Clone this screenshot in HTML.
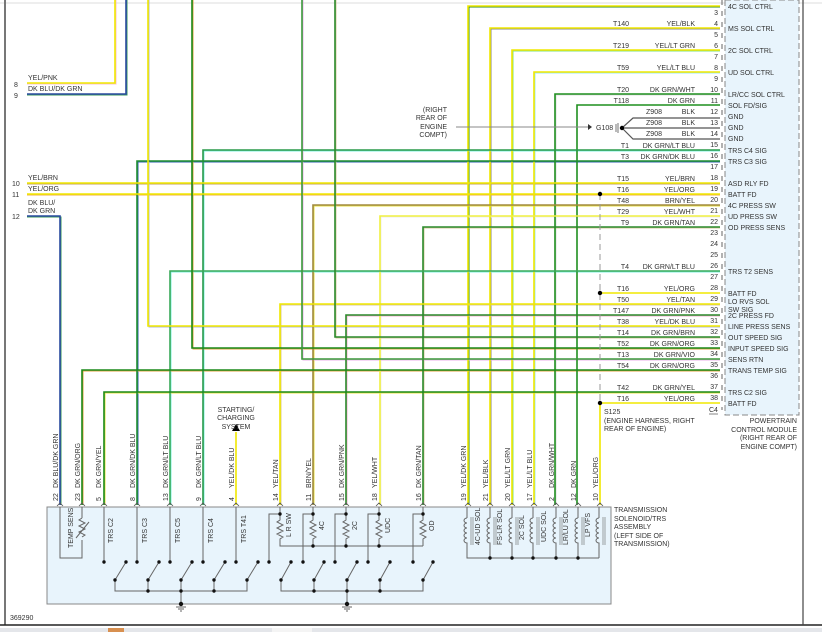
<!DOCTYPE html>
<html><head><meta charset="utf-8"><style>
html,body{margin:0;padding:0;background:#fff;}
svg{display:block;font-family:"Liberation Sans",sans-serif;}
text{font-size:7px;fill:#333;}
</style></head><body>
<svg width="822" height="632" viewBox="0 0 822 632" xmlns="http://www.w3.org/2000/svg">
<rect x="0" y="0" width="822" height="632" fill="#fff"/>
<line x1="0" y1="3" x2="822" y2="3" stroke="#ddd" stroke-width="1"/>
<line x1="5" y1="0" x2="5" y2="625" stroke="#777" stroke-width="2"/>
<line x1="0" y1="625" x2="822" y2="625" stroke="#222" stroke-width="1.5"/>
<rect x="0" y="628" width="822" height="4" fill="#e4e6ea"/>
<rect x="108" y="628" width="16" height="4" fill="#d89050"/>
<rect x="272" y="628" width="40" height="4" fill="#f4f4f4"/>
<rect x="725" y="0" width="74" height="415" fill="#e8f4fc" stroke="#888" stroke-dasharray="6 3"/>
<line x1="803" y1="0" x2="803" y2="625" stroke="#444" stroke-width="1.2"/>
<line x1="722" y1="0" x2="722" y2="410" stroke="#666" stroke-dasharray="5 6"/>
<rect x="47" y="507" width="564" height="97" fill="#e8f4fc" stroke="#888" stroke-width="1"/>

<g fill="none" stroke-linejoin="miter">
<g stroke-width="1" >
<path d="M720,7 H469 V505" stroke="#2a8a2a"/>
<path d="M720,29 H491 V505" stroke="#888"/>
<path d="M720,51 H513 V505" stroke="#80e080"/>
<path d="M720,73 H535 V505" stroke="#a0e8f0"/>
<path d="M720,95 H556 V505" stroke="#ddd"/>
<path d="M720,151 H204 V505" stroke="#80f0e0"/>
<path d="M720,162 H138 V505" stroke="#3060b0"/>
<path d="M720,184 H27" stroke="#c0a060"/>
<path d="M720,195 H27" stroke="#f0b040"/>
<path d="M720,206 H314 V505" stroke="#e8e040"/>
<path d="M720,217 H381 V505" stroke="#eee"/>
<path d="M720,228 H424 V505" stroke="#d8c8a0"/>
<path d="M720,272 H171 V505" stroke="#80f0e0"/>
<path d="M720,305 H281 V505" stroke="#d8c8a0"/>
<path d="M720,316 H347 V505" stroke="#f0b0d0"/>
<path d="M720,327 H149 V0" stroke="#b0b8d0"/>
<path d="M720,338 H336 V0" stroke="#d8c8a0"/>
<path d="M720,349 H193 V0" stroke="#e0a040"/>
<path d="M720,360 H303 V0" stroke="#e8b0e8"/>
<path d="M720,371 H83 V505" stroke="#e0a040"/>
<path d="M720,393 H105 V505" stroke="#e8e040"/>
<path d="M27,84 H116 V0" stroke="#f8c0d0"/>
<path d="M27,95 H127 V0" stroke="#3a9a5a"/>
<path d="M27,217 H61 V505" stroke="#3a9a5a"/>
</g>
<g stroke-width="1.6">
<path d="M720,6 H468 V505" stroke="#f0e800"/>
<path d="M720,28 H490 V505" stroke="#f0e800"/>
<path d="M720,50 H512 V505" stroke="#f0e800"/>
<path d="M720,72 H534 V505" stroke="#f0e800"/>
<path d="M720,94 H555 V505" stroke="#1f8f1f"/>
<path d="M720,105 H577 V505" stroke="#1f8f1f"/>
<path d="M720,150 H203 V505" stroke="#2a9a4a"/>
<path d="M720,161 H137 V505" stroke="#1f8f2f"/>
<path d="M720,183 H27" stroke="#f0e800"/>
<path d="M720,194 H27" stroke="#f0e800"/>
<path d="M720,205 H313 V505" stroke="#a08a40"/>
<path d="M720,216 H380 V505" stroke="#f0f040"/>
<path d="M720,227 H423 V505" stroke="#2a8a2a"/>
<path d="M720,271 H170 V505" stroke="#3aaa5a"/>
<path d="M720,293 H600" stroke="#f0e800"/>
<path d="M720,304 H280 V505" stroke="#f0e800"/>
<path d="M720,315 H346 V505" stroke="#2a8a2a"/>
<path d="M720,326 H148 V0" stroke="#f0e800"/>
<path d="M720,337 H335 V0" stroke="#2a8a2a"/>
<path d="M720,348 H192 V0" stroke="#1a8a1a"/>
<path d="M720,359 H302 V0" stroke="#3a9a3a"/>
<path d="M720,370 H82 V505" stroke="#1a8a1a"/>
<path d="M720,392 H104 V505" stroke="#1a8a1a"/>
<path d="M720,403 H600 V505" stroke="#f0e800"/>
<path d="M27,83 H115 V0" stroke="#f0e800"/>
<path d="M27,94 H126 V0" stroke="#2a4aa0"/>
<path d="M27,216 H60 V505" stroke="#2a4aa0"/>
<path d="M236,505 V432" stroke="#f0e800"/>
</g>
<path d="M622,128 L633,118 H720 M622,128 H720 M622,128 L633,139 H720" stroke="#555" stroke-width="1.2"/>
<line x1="456" y1="127" x2="588" y2="127" stroke="#888" stroke-width="1"/>
<line x1="600" y1="194" x2="600" y2="403" stroke="#999" stroke-dasharray="6 4"/>
</g>
<polygon points="588,124 592,127 588,130" fill="#333"/>
<circle cx="622" cy="128" r="2.2" fill="#000"/>
<path d="M616,124 V132 M618,123 V133" stroke="#555" stroke-width="0.8"/>
<circle cx="600" cy="194" r="2.2" fill="#000"/>
<circle cx="600" cy="293" r="2.2" fill="#000"/>
<circle cx="600" cy="403" r="2.2" fill="#000"/>
<polygon points="232,431 240,431 236,424" fill="#000"/>

<g text-anchor="end">
<text x="718" y="15">3</text><text x="718" y="26">4</text><text x="718" y="37">5</text><text x="718" y="48">6</text><text x="718" y="59">7</text><text x="718" y="70">8</text><text x="718" y="81">9</text><text x="718" y="92">10</text><text x="718" y="103">11</text><text x="718" y="114">12</text><text x="718" y="125">13</text><text x="718" y="136">14</text><text x="718" y="147">15</text><text x="718" y="158">16</text><text x="718" y="169">17</text><text x="718" y="180">18</text><text x="718" y="191">19</text><text x="718" y="202">20</text><text x="718" y="213">21</text><text x="718" y="224">22</text><text x="718" y="235">23</text><text x="718" y="246">24</text><text x="718" y="257">25</text><text x="718" y="268">26</text><text x="718" y="279">27</text><text x="718" y="290">28</text><text x="718" y="301">29</text><text x="718" y="312">30</text><text x="718" y="323">31</text><text x="718" y="334">32</text><text x="718" y="345">33</text><text x="718" y="356">34</text><text x="718" y="367">35</text><text x="718" y="378">36</text><text x="718" y="389">37</text><text x="718" y="400">38</text>
<text x="629" y="26">T140</text><text x="629" y="48">T219</text><text x="629" y="70">T59</text><text x="629" y="92">T20</text><text x="629" y="103">T118</text>
<text x="662" y="114">Z908</text><text x="662" y="125">Z908</text><text x="662" y="136">Z908</text>
<text x="629" y="148">T1</text><text x="629" y="159">T3</text><text x="629" y="181">T15</text><text x="629" y="192">T16</text><text x="629" y="203">T48</text><text x="629" y="214">T29</text><text x="629" y="225">T9</text><text x="629" y="269">T4</text><text x="629" y="291">T16</text><text x="629" y="302">T50</text><text x="629" y="313">T147</text><text x="629" y="324">T38</text><text x="629" y="335">T14</text><text x="629" y="346">T52</text><text x="629" y="357">T13</text><text x="629" y="368">T54</text><text x="629" y="390">T42</text><text x="629" y="401">T16</text>
<text x="695" y="26">YEL/BLK</text><text x="695" y="48">YEL/LT GRN</text><text x="695" y="70">YEL/LT BLU</text><text x="695" y="92">DK GRN/WHT</text><text x="695" y="103">DK GRN</text>
<text x="695" y="114">BLK</text><text x="695" y="125">BLK</text><text x="695" y="136">BLK</text>
<text x="695" y="148">DK GRN/LT BLU</text><text x="695" y="159">DK GRN/DK BLU</text><text x="695" y="181">YEL/BRN</text><text x="695" y="192">YEL/ORG</text><text x="695" y="203">BRN/YEL</text><text x="695" y="214">YEL/WHT</text><text x="695" y="225">DK GRN/TAN</text><text x="695" y="269">DK GRN/LT BLU</text><text x="695" y="291">YEL/ORG</text><text x="695" y="302">YEL/TAN</text><text x="695" y="313">DK GRN/PNK</text><text x="695" y="324">YEL/DK BLU</text><text x="695" y="335">DK GRN/BRN</text><text x="695" y="346">DK GRN/ORG</text><text x="695" y="357">DK GRN/VIO</text><text x="695" y="368">DK GRN/ORG</text><text x="695" y="390">DK GRN/YEL</text><text x="695" y="401">YEL/ORG</text>
<text x="447" y="112">(RIGHT</text><text x="447" y="120">REAR OF</text><text x="447" y="129">ENGINE</text><text x="447" y="137">COMPT)</text>
<text x="797" y="423">POWERTRAIN</text><text x="797" y="432">CONTROL MODULE</text><text x="797" y="440">(RIGHT REAR OF</text><text x="797" y="449">ENGINE COMPT)</text>
</g>
<text x="596" y="130">G108</text>
<text x="709" y="412">C4</text><line x1="709" y1="414" x2="718" y2="414" stroke="#333" stroke-width="0.6"/>
<text x="604" y="414">S125</text><text x="604" y="423">(ENGINE HARNESS, RIGHT</text><text x="604" y="431">REAR OF ENGINE)</text>
<g>
<text x="728" y="9">4C SOL CTRL</text><text x="728" y="31">MS SOL CTRL</text><text x="728" y="53">2C SOL CTRL</text><text x="728" y="75">UD SOL CTRL</text><text x="728" y="97">LR/CC SOL CTRL</text><text x="728" y="108">SOL FD/SIG</text><text x="728" y="119">GND</text><text x="728" y="130">GND</text><text x="728" y="141">GND</text><text x="728" y="153">TRS C4 SIG</text><text x="728" y="164">TRS C3 SIG</text><text x="728" y="186">ASD RLY FD</text><text x="728" y="197">BATT FD</text><text x="728" y="208">4C PRESS SW</text><text x="728" y="219">UD PRESS SW</text><text x="728" y="230">OD PRESS SENS</text><text x="728" y="274">TRS T2 SENS</text><text x="728" y="296">BATT FD</text><text x="728" y="304">LO RVS SOL</text><text x="728" y="312">SW SIG</text><text x="728" y="318">2C PRESS FD</text><text x="728" y="329">LINE PRESS SENS</text><text x="728" y="340">OUT SPEED SIG</text><text x="728" y="351">INPUT SPEED SIG</text><text x="728" y="362">SENS RTN</text><text x="728" y="373">TRANS TEMP SIG</text><text x="728" y="395">TRS C2 SIG</text><text x="728" y="406">BATT FD</text>
</g>
<text x="14" y="87">8</text><text x="28" y="80">YEL/PNK</text>
<text x="14" y="98">9</text><text x="28" y="91">DK BLU/DK GRN</text>
<text x="12" y="186">10</text><text x="28" y="180">YEL/BRN</text>
<text x="12" y="197">11</text><text x="28" y="191">YEL/ORG</text>
<text x="28" y="205">DK BLU/</text><text x="28" y="213">DK GRN</text><text x="12" y="219">12</text>
<text x="236" y="412" text-anchor="middle">STARTING/</text><text x="236" y="420" text-anchor="middle">CHARGING</text><text x="236" y="429" text-anchor="middle">SYSTEM</text>
<text x="10" y="620">369290</text>
<text x="614" y="512">TRANSMISSION</text><text x="614" y="521">SOLENOID/TRS</text><text x="614" y="529">ASSEMBLY</text><text x="614" y="538">(LEFT SIDE OF</text><text x="614" y="546">TRANSMISSION)</text>

<g>
<text transform="translate(58,488) rotate(-90)">DK BLU/DK GRN</text><text transform="translate(58,501) rotate(-90)">22</text>
<text transform="translate(80,488) rotate(-90)">DK GRN/ORG</text><text transform="translate(80,501) rotate(-90)">23</text>
<text transform="translate(101,488) rotate(-90)">DK GRN/YEL</text><text transform="translate(101,501) rotate(-90)">5</text>
<text transform="translate(135,488) rotate(-90)">DK GRN/DK BLU</text><text transform="translate(135,501) rotate(-90)">8</text>
<text transform="translate(168,488) rotate(-90)">DK GRN/LT BLU</text><text transform="translate(168,501) rotate(-90)">13</text>
<text transform="translate(201,488) rotate(-90)">DK GRN/LT BLU</text><text transform="translate(201,501) rotate(-90)">9</text>
<text transform="translate(234,488) rotate(-90)">YEL/DK BLU</text><text transform="translate(234,501) rotate(-90)">4</text>
<text transform="translate(278,488) rotate(-90)">YEL/TAN</text><text transform="translate(278,501) rotate(-90)">14</text>
<text transform="translate(311,488) rotate(-90)">BRN/YEL</text><text transform="translate(311,501) rotate(-90)">11</text>
<text transform="translate(344,488) rotate(-90)">DK GRN/PNK</text><text transform="translate(344,501) rotate(-90)">15</text>
<text transform="translate(377,488) rotate(-90)">YEL/WHT</text><text transform="translate(377,501) rotate(-90)">18</text>
<text transform="translate(421,488) rotate(-90)">DK GRN/TAN</text><text transform="translate(421,501) rotate(-90)">16</text>
<text transform="translate(466,488) rotate(-90)">YEL/DK GRN</text><text transform="translate(466,501) rotate(-90)">19</text>
<text transform="translate(488,488) rotate(-90)">YEL/BLK</text><text transform="translate(488,501) rotate(-90)">21</text>
<text transform="translate(510,488) rotate(-90)">YEL/LT GRN</text><text transform="translate(510,501) rotate(-90)">20</text>
<text transform="translate(532,488) rotate(-90)">YEL/LT BLU</text><text transform="translate(532,501) rotate(-90)">17</text>
<text transform="translate(554,488) rotate(-90)">DK GRN/WHT</text><text transform="translate(554,501) rotate(-90)">2</text>
<text transform="translate(576,488) rotate(-90)">DK GRN</text><text transform="translate(576,501) rotate(-90)">12</text>
<text transform="translate(598,488) rotate(-90)">YEL/ORG</text><text transform="translate(598,501) rotate(-90)">10</text>
</g>
<g>
<text transform="translate(73,548) rotate(-90)">TEMP SENS</text>
<text transform="translate(113,543) rotate(-90)">TRS C2</text>
<text transform="translate(147,543) rotate(-90)">TRS C3</text>
<text transform="translate(180,543) rotate(-90)">TRS C5</text>
<text transform="translate(213,543) rotate(-90)">TRS C4</text>
<text transform="translate(246,543) rotate(-90)">TRS T41</text>
<text transform="translate(291,537) rotate(-90)">L R SW</text>
<text transform="translate(324,530) rotate(-90)">4C</text>
<text transform="translate(357,530) rotate(-90)">2C</text>
<text transform="translate(390,533) rotate(-90)">UDC</text>
<text transform="translate(434,531) rotate(-90)">OD</text>
<text transform="translate(480,545) rotate(-90)">4C-UD SOL</text>
<text transform="translate(502,545) rotate(-90)">FS-LR SOL</text>
<text transform="translate(524,540) rotate(-90)">2C SOL</text>
<text transform="translate(546,542) rotate(-90)">UDC SOL</text>
<text transform="translate(568,545) rotate(-90)">LR/LU SOL</text>
<text transform="translate(590,537) rotate(-90)">LP VFS</text>
</g>

<g fill="none" stroke="#555" stroke-width="0.8">
<path d="M57,506 l3,-3 l3,3 M79,506 l3,-3 l3,3 M101,506 l3,-3 l3,3 M134,506 l3,-3 l3,3 M167,506 l3,-3 l3,3 M200,506 l3,-3 l3,3 M233,506 l3,-3 l3,3 M277,506 l3,-3 l3,3 M310,506 l3,-3 l3,3 M343,506 l3,-3 l3,3 M376,506 l3,-3 l3,3 M420,506 l3,-3 l3,3 M465,506 l3,-3 l3,3 M487,506 l3,-3 l3,3 M509,506 l3,-3 l3,3 M531,506 l3,-3 l3,3 M553,506 l3,-3 l3,3 M575,506 l3,-3 l3,3 M597,506 l3,-3 l3,3"/>
</g>
<g fill="none" stroke="#666" stroke-width="1">
<path d="M60,507 V558 H82 V540 M82,507 V518"/>
<path d="M82,518 l-3,2 l6,3 l-6,3 l6,3 l-6,3 l6,3 l-3,2 M76,538 L89,522"/>
<path d="M104,507 V562 M137,507 V562 M170,507 V562 M203,507 V562 M236,507 V562"/>
<path d="M115,580 L126,562 M148,580 L159,562 M181,580 L192,562 M214,580 L225,562 M247,580 L258,562"/>
<path d="M115,580 V591 H247 V580 M148,580 V591 M181,580 V604 M214,580 V591"/>
<path d="M280,507 V514 H269 V562 M313,507 V514 H303 V562 M346,507 V514 H335 V562 M379,507 V514 H368 V562 M423,507 V514 H413 V562"/>
<path d="M280,514 V520 l-3,2 l6,3 l-6,3 l6,3 l-6,3 l6,3 l-3,2 V546 H423 M313,514 V520 l-3,2 l6,3 l-6,3 l6,3 l-6,3 l6,3 l-3,2 V546 M346,514 V520 l-3,2 l6,3 l-6,3 l6,3 l-6,3 l6,3 l-3,2 V546 M379,514 V520 l-3,2 l6,3 l-6,3 l6,3 l-6,3 l6,3 l-3,2 V546 M423,514 V520 l-3,2 l6,3 l-6,3 l6,3 l-6,3 l6,3 l-3,2 V546"/>
<path d="M281,580 L291,562 M314,580 L324,562 M347,580 L357,562 M380,580 L390,562 M423,580 L433,562"/>
<path d="M281,580 V591 H423 V580 M314,580 V591 M347,580 V604 M380,580 V591"/>
<path d="M467,507 V518 M490,507 V518 M512,507 V518 M533,507 V518 M556,507 V518 M578,507 V518 M599,507 V518"/>
<path d="M467,518 a3,2.5 0 0 0 0,5 a3,2.5 0 0 0 0,5 a3,2.5 0 0 0 0,5 a3,2.5 0 0 0 0,5 a3,2.5 0 0 0 0,5 V558 H599 M490,518 a3,2.5 0 0 0 0,5 a3,2.5 0 0 0 0,5 a3,2.5 0 0 0 0,5 a3,2.5 0 0 0 0,5 a3,2.5 0 0 0 0,5 V558 M512,518 a3,2.5 0 0 0 0,5 a3,2.5 0 0 0 0,5 a3,2.5 0 0 0 0,5 a3,2.5 0 0 0 0,5 a3,2.5 0 0 0 0,5 V558 M533,518 a3,2.5 0 0 0 0,5 a3,2.5 0 0 0 0,5 a3,2.5 0 0 0 0,5 a3,2.5 0 0 0 0,5 a3,2.5 0 0 0 0,5 V558 M556,518 a3,2.5 0 0 0 0,5 a3,2.5 0 0 0 0,5 a3,2.5 0 0 0 0,5 a3,2.5 0 0 0 0,5 a3,2.5 0 0 0 0,5 V558 M578,518 a3,2.5 0 0 0 0,5 a3,2.5 0 0 0 0,5 a3,2.5 0 0 0 0,5 a3,2.5 0 0 0 0,5 a3,2.5 0 0 0 0,5 V558 M599,518 a3,2.5 0 0 0 0,5 a3,2.5 0 0 0 0,5 a3,2.5 0 0 0 0,5 a3,2.5 0 0 0 0,5 a3,2.5 0 0 0 0,5 V558"/>
<path d="M471,517 V545 M473,517 V545 M494,517 V545 M496,517 V545 M516,517 V545 M518,517 V545 M537,517 V545 M539,517 V545 M560,517 V545 M562,517 V545 M582,517 V545 M584,517 V545 M603,517 V545 M605,517 V545" stroke-width="0.6"/>
<path d="M176,607 H186 M178,609 H184 M180,611 H182 M342,607 H352 M344,609 H350 M346,611 H348"/>
</g>
<g fill="#111">
<circle cx="104" cy="562" r="1.7"/><circle cx="137" cy="562" r="1.7"/><circle cx="170" cy="562" r="1.7"/><circle cx="203" cy="562" r="1.7"/><circle cx="236" cy="562" r="1.7"/>
<circle cx="126" cy="562" r="1.7"/><circle cx="159" cy="562" r="1.7"/><circle cx="192" cy="562" r="1.7"/><circle cx="225" cy="562" r="1.7"/><circle cx="258" cy="562" r="1.7"/>
<circle cx="115" cy="580" r="1.7"/><circle cx="148" cy="580" r="1.7"/><circle cx="181" cy="580" r="1.7"/><circle cx="214" cy="580" r="1.7"/><circle cx="247" cy="580" r="1.7"/>
<circle cx="148" cy="591" r="1.7"/><circle cx="181" cy="591" r="1.7"/><circle cx="214" cy="591" r="1.7"/><circle cx="181" cy="604" r="2.2"/>
<circle cx="280" cy="514" r="1.7"/><circle cx="313" cy="514" r="1.7"/><circle cx="346" cy="514" r="1.7"/><circle cx="379" cy="514" r="1.7"/><circle cx="423" cy="514" r="1.7"/>
<circle cx="313" cy="546" r="1.7"/><circle cx="346" cy="546" r="1.7"/><circle cx="379" cy="546" r="1.7"/>
<circle cx="269" cy="562" r="1.7"/><circle cx="303" cy="562" r="1.7"/><circle cx="335" cy="562" r="1.7"/><circle cx="368" cy="562" r="1.7"/><circle cx="413" cy="562" r="1.7"/>
<circle cx="291" cy="562" r="1.7"/><circle cx="324" cy="562" r="1.7"/><circle cx="357" cy="562" r="1.7"/><circle cx="390" cy="562" r="1.7"/><circle cx="433" cy="562" r="1.7"/>
<circle cx="281" cy="580" r="1.7"/><circle cx="314" cy="580" r="1.7"/><circle cx="347" cy="580" r="1.7"/><circle cx="380" cy="580" r="1.7"/><circle cx="423" cy="580" r="1.7"/>
<circle cx="314" cy="591" r="1.7"/><circle cx="347" cy="591" r="1.7"/><circle cx="380" cy="591" r="1.7"/><circle cx="347" cy="604" r="2.2"/>
<circle cx="490" cy="558" r="1.7"/><circle cx="512" cy="558" r="1.7"/><circle cx="533" cy="558" r="1.7"/><circle cx="556" cy="558" r="1.7"/><circle cx="578" cy="558" r="1.7"/>
</g>
</svg>
</body></html>
